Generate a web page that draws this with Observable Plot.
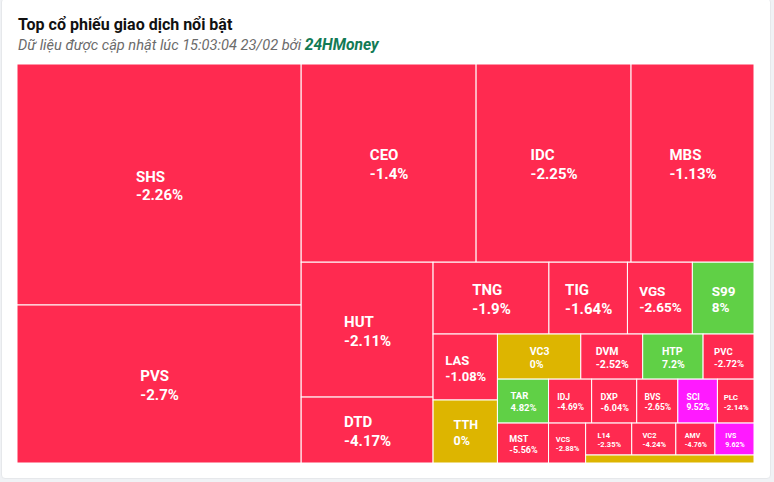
<!DOCTYPE html>
<html><head><meta charset="utf-8">
<script src="https://cdn.jsdelivr.net/npm/d3@7"></script>
<script src="https://cdn.jsdelivr.net/npm/@observablehq/plot@0.6"></script>
<style>
html,body{margin:0;padding:0;background:#f0f2f5;width:774px;height:482px;overflow:hidden;font-family:Roboto,"Noto Sans",sans-serif;}
#card{position:absolute;left:1px;top:-2px;width:768px;height:479px;background:#fff;border:1px solid #e6e8eb;border-radius:4px;}
#title{position:absolute;left:18px;top:15px;font-size:16px;line-height:20px;font-weight:700;color:#111;white-space:nowrap;}
#sub{position:absolute;left:18px;top:35.5px;font-size:14.6px;line-height:18px;font-style:italic;color:#6b6b6b;white-space:nowrap;}
#sub b{color:#127a55;font-size:15.6px;}
#chart{position:absolute;left:0;top:56px;}
</style></head>
<body>
<div id="card"></div>
<div id="title">Top cổ phiếu giao dịch nổi bật</div>
<div id="sub">Dữ liệu được cập nhật lúc 15:03:04 23/02 bởi <b>24HMoney</b></div>
<div id="chart"></div>
<script>
// Data (relative trading weight, % change from labels)
const tickers = ["SHS","PVS","CEO","IDC","MBS","HUT","DTD","TNG","TIG","VGS","S99","LAS","TTH","VC3","DVM","HTP","PVC","TAR","MST","IDJ","DXP","BVS","SCI","PLC","VCS","L14","VC2","AMV","IVS","Khác"];
const weights = [68444,44872,34650,30690,24354,17780,8692,8317,5636,4661,4424,4244,4051,3758,2790,2723,2295,2244,2040,1892,1980,1804,1738,1606,1480,1472,1408,1248,1248,1344];
const changes = [-2.26,-2.7,-1.4,-2.25,-1.13,-2.11,-4.17,-1.9,-1.64,-2.65,8,-1.08,0,0,-2.52,7.2,-2.72,4.82,-5.56,-4.69,-6.04,-2.65,9.52,-2.14,-2.88,-2.35,-4.24,-4.76,9.62,0];

const W = 737, H = 399;
const rows = tickers.map((t, i) => ({name: t, value: weights[i], change: changes[i]}));

function colorOf(c) {
  if (c >= 9.5) return "#ff1aff";
  if (c > 0) return "#60d046";
  if (c === 0) return "#ddb500";
  return "#ff2a50";
}

// Alternating-direction squarified tiling
function tileAlternating(parent, x0, y0, x1, y1) {
  const nodes = parent.children, n = nodes.length;
  const k = (x1 - x0) * (y1 - y0) / parent.value;
  const area = nodes.map(d => d.value * k);
  let dir = 0, cx = x0, cy = y0, i = 0;
  while (i < n) {
    const rw = x1 - cx, rh = y1 - cy;
    const side = dir === 0 ? rh : rw;
    let j = i + 1, tot = area[i];
    while (j < n) {
      const p = area[j - 1];
      const t0 = tot / side, l0 = p / t0;
      const t1 = (tot + area[j]) / side, l1 = p / t1;
      const r0 = Math.max(t0 / l0, l0 / t0), r1 = Math.max(t1 / l1, l1 / t1);
      if (r1 > r0) break;
      tot += area[j]; j++;
    }
    const last = j >= n;
    const thick = last ? (dir === 0 ? rw : rh) : tot / side;
    let pos = dir === 0 ? cy : cx;
    for (let m = i; m < j; m++) {
      const node = nodes[m];
      const len = (last && m === j - 1) ? (dir === 0 ? y1 - pos : x1 - pos) : area[m] / thick;
      if (dir === 0) { node.x0 = cx; node.x1 = cx + thick; node.y0 = pos; node.y1 = pos + len; }
      else { node.y0 = cy; node.y1 = cy + thick; node.x0 = pos; node.x1 = pos + len; }
      pos += len;
    }
    if (dir === 0) cx += thick; else cy += thick;
    dir = 1 - dir; i = j;
  }
}

const root = d3.hierarchy({children: rows}).sum(d => d.value || 0);
d3.treemap().tile(tileAlternating).size([W, H]).round(false)(root);
const leaves = root.leaves();

const ctx = document.createElement("canvas").getContext("2d");
const cells = leaves.map(l => {
  const w = l.x1 - l.x0, h = l.y1 - l.y0;
  const fs = Math.round(Math.min(15, Math.sqrt(w * h) / 5, h / 4.2) * 2) / 2;
  const pct = `${l.data.change}%`;
  ctx.font = `bold ${fs}px Roboto`;
  const tw = Math.max(ctx.measureText(l.data.name).width, ctx.measureText(pct).width);
  return {
    ...l.data, x0: l.x0, x1: l.x1, y0: l.y0, y1: l.y1, fs,
    label: `${l.data.name}\n${pct}`,
    lx: (l.x0 + l.x1) / 2 - tw / 2, ly: (l.y0 + l.y1) / 2,
    show: w >= 20 && h >= 20
  };
});

const chart = Plot.plot({
  width: 774, height: 412,
  margin: 0,
  style: {background: "transparent", fontFamily: "Roboto, sans-serif"},
  x: {type: "linear", domain: [0, W], range: [17, 17 + W], axis: null},
  y: {type: "linear", domain: [0, H], range: [8, 8 + H], axis: null},
  color: {type: "identity"},
  marks: [
    Plot.rect(cells, {x1: "x0", x2: "x1", y1: "y0", y2: "y1", fill: d => colorOf(d.change), stroke: "white", strokeWidth: 1}),
    Plot.text(cells.filter(d => d.show), {
      x: "lx", y: "ly", text: "label", fill: "white", fontWeight: "bold",
      fontSize: d => d.fs, textAnchor: "start", lineAnchor: "middle", lineHeight: 1.25
    })
  ]
});
document.getElementById("chart").appendChild(chart);
</script>
</body></html>
